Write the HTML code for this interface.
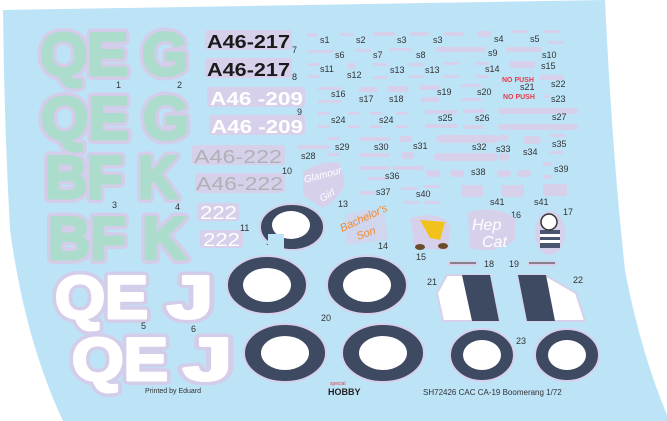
<!DOCTYPE html>
<html><head><meta charset="utf-8"><style>
html,body{margin:0;padding:0;background:#fff;}
svg{display:block;}
text{font-family:"Liberation Sans",sans-serif;}
</style></head><body>
<svg width="667" height="421" viewBox="0 0 667 421" xmlns="http://www.w3.org/2000/svg">
<defs>
<g id="big1" font-weight="bold" font-size="60">
<text x="40" y="75" textLength="88" lengthAdjust="spacingAndGlyphs">QE</text>
<text x="142" y="75" textLength="46" lengthAdjust="spacingAndGlyphs">G</text>
<text x="41" y="139" textLength="88" lengthAdjust="spacingAndGlyphs">QE</text>
<text x="143" y="139" textLength="46" lengthAdjust="spacingAndGlyphs">G</text>
<text x="45" y="198" textLength="78" lengthAdjust="spacingAndGlyphs">BF</text>
<text x="138" y="198" textLength="40" lengthAdjust="spacingAndGlyphs">K</text>
<text x="48" y="259" textLength="78" lengthAdjust="spacingAndGlyphs">BF</text>
<text x="142" y="259" textLength="45" lengthAdjust="spacingAndGlyphs">K</text>
</g>
<g id="big2" font-weight="bold" font-size="60">
<text x="55" y="318" textLength="93" lengthAdjust="spacingAndGlyphs">QE</text>
<text x="167" y="318" textLength="46" lengthAdjust="spacingAndGlyphs">J</text>
<text x="72" y="380" textLength="96" lengthAdjust="spacingAndGlyphs">QE</text>
<text x="183" y="380" textLength="49" lengthAdjust="spacingAndGlyphs">J</text>
</g>
</defs>
<path d="M3,10 L605,0 Q612,150 625,270 Q640,350 667,415 L667,421 L63,421 Q25,340 10,230 Q4,120 3,10 Z" fill="#bde3f7"/>

<!-- big letters -->
<use href="#big1" fill="#d3cdea" stroke="#d3cdea" stroke-width="10" stroke-linejoin="round"/>
<use href="#big1" fill="#acdccb" stroke="#acdccb" stroke-width="3" stroke-linejoin="round"/>
<use href="#big2" fill="#d3cdea" stroke="#d3cdea" stroke-width="10" stroke-linejoin="round"/>
<use href="#big2" fill="#fff" stroke="#fff" stroke-width="3" stroke-linejoin="round"/>

<!-- registrations -->
<g fill="#d7d0ea">
<rect x="205" y="30" width="87" height="20" rx="3"/><rect x="205" y="58" width="87" height="20" rx="3"/>
<rect x="207" y="87" width="98" height="20" rx="3"/><rect x="209" y="115" width="96" height="20" rx="3"/>
<rect x="192" y="145" width="93" height="20" rx="3"/><rect x="195" y="173" width="90" height="20" rx="3"/>
<rect x="197" y="203" width="42" height="18" rx="3"/><rect x="200" y="230" width="43" height="18" rx="3"/>
</g>
<g font-size="18" font-weight="bold">
<text x="207" y="48" textLength="83" lengthAdjust="spacingAndGlyphs" fill="#1a1a1a">A46-217</text>
<text x="207" y="76" textLength="83" lengthAdjust="spacingAndGlyphs" fill="#1a1a1a">A46-217</text>
<text x="210" y="105" textLength="93" lengthAdjust="spacingAndGlyphs" fill="#fff">A46 -209</text>
<text x="211" y="133" textLength="92" lengthAdjust="spacingAndGlyphs" fill="#fff">A46 -209</text>
<text x="194" y="163" textLength="88" lengthAdjust="spacingAndGlyphs" fill="#aeb2b4" font-weight="normal">A46-222</text>
<text x="196" y="190" textLength="87" lengthAdjust="spacingAndGlyphs" fill="#aeb2b4" font-weight="normal">A46-222</text>
<text x="200" y="219" textLength="37" lengthAdjust="spacingAndGlyphs" fill="#fff" font-weight="normal">222</text>
<text x="203" y="246" textLength="37" lengthAdjust="spacingAndGlyphs" fill="#fff" font-weight="normal">222</text>
</g>

<!-- numbers -->
<g font-size="9" fill="#333">
<text x="116" y="88">1</text><text x="177" y="88">2</text><text x="112" y="208">3</text><text x="175" y="210">4</text>
<text x="141" y="329">5</text><text x="191" y="332">6</text><text x="292" y="53">7</text><text x="292" y="80">8</text>
<text x="297" y="115">9</text><text x="282" y="174">10</text><text x="240" y="231">11</text><text x="266" y="245">12</text>
<text x="338" y="207">13</text><text x="378" y="249">14</text><text x="416" y="260">15</text><text x="511" y="218">16</text>
<text x="563" y="215">17</text><text x="484" y="267">18</text><text x="509" y="267">19</text><text x="321" y="321">20</text>
<text x="427" y="285">21</text><text x="573" y="283">22</text><text x="516" y="344">23</text>
</g>

<!-- stencils -->
<g fill="#d7d0ea">
<rect x="307" y="33" width="10" height="4"/><rect x="340" y="33" width="14" height="3"/><rect x="373" y="32" width="22" height="4" rx="2"/><rect x="409" y="32" width="20" height="4" rx="2"/><rect x="444" y="32" width="20" height="4" rx="2"/><rect x="478" y="31" width="14" height="6"/><rect x="512" y="30" width="16" height="3"/><rect x="544" y="30" width="16" height="3"/><rect x="548" y="41" width="16" height="3"/>
<rect x="308" y="50" width="25" height="3"/><rect x="355" y="49" width="16" height="3"/><rect x="390" y="48" width="22" height="3"/><rect x="436" y="47" width="50" height="5" rx="2"/><rect x="506" y="47" width="36" height="5" rx="2"/>
<rect x="308" y="63" width="12" height="3"/><rect x="308" y="75" width="12" height="3"/><rect x="348" y="63" width="8" height="6"/><rect x="373" y="63" width="14" height="3"/><rect x="373" y="76" width="14" height="3"/><rect x="409" y="63" width="14" height="3"/><rect x="409" y="75" width="14" height="3"/><rect x="443" y="62" width="16" height="3"/><rect x="443" y="75" width="16" height="3"/><rect x="475" y="62" width="14" height="3"/><rect x="475" y="75" width="14" height="3"/><rect x="510" y="61" width="25" height="7" rx="2"/><rect x="540" y="75" width="24" height="5" rx="2"/>
<rect x="317" y="87" width="24" height="3"/><rect x="318" y="100" width="24" height="3"/><rect x="359" y="87" width="18" height="5"/><rect x="388" y="86" width="20" height="6"/><rect x="420" y="85" width="20" height="5"/><rect x="421" y="97" width="18" height="5"/><rect x="461" y="84" width="20" height="3"/><rect x="461" y="98" width="20" height="3"/><rect x="543" y="95" width="6" height="3"/>
<rect x="318" y="112" width="12" height="3"/><rect x="318" y="125" width="12" height="3"/><rect x="348" y="112" width="12" height="3"/><rect x="348" y="125" width="12" height="3"/><rect x="370" y="112" width="12" height="3"/><rect x="370" y="125" width="12" height="3"/><rect x="396" y="112" width="12" height="3"/><rect x="396" y="125" width="12" height="3"/><rect x="425" y="110" width="32" height="4"/><rect x="425" y="124" width="32" height="4"/><rect x="463" y="109" width="22" height="4"/><rect x="463" y="125" width="20" height="4"/><rect x="498" y="108" width="80" height="6" rx="3"/><rect x="498" y="124" width="80" height="6" rx="3"/>
<rect x="297" y="145" width="32" height="4"/><rect x="328" y="137" width="12" height="3"/><rect x="328" y="153" width="12" height="3"/><rect x="360" y="137" width="30" height="4"/><rect x="360" y="153" width="30" height="4"/><rect x="400" y="136" width="12" height="6"/><rect x="402" y="152" width="12" height="7"/><rect x="436" y="135" width="62" height="8" rx="4"/><rect x="434" y="153" width="64" height="8" rx="4"/><rect x="497" y="135" width="12" height="6" rx="3"/><rect x="499" y="153" width="10" height="8" rx="3"/><rect x="523" y="136" width="18" height="8" rx="4"/><rect x="549" y="134" width="16" height="3"/><rect x="549" y="151" width="14" height="3"/>
<rect x="360" y="166" width="30" height="4"/><rect x="367" y="177" width="20" height="3"/><rect x="393" y="166" width="30" height="4"/><rect x="360" y="191" width="16" height="4"/><rect x="401" y="187" width="16" height="3"/><rect x="403" y="201" width="16" height="3"/><rect x="424" y="185" width="16" height="3"/><rect x="424" y="201" width="16" height="3"/><rect x="426" y="170" width="14" height="7" rx="3"/><rect x="450" y="170" width="14" height="7" rx="3"/><rect x="497" y="170" width="14" height="7" rx="3"/><rect x="517" y="170" width="14" height="7" rx="3"/><rect x="543" y="162" width="9" height="4"/><rect x="543" y="175" width="9" height="4"/>
<rect x="461" y="185" width="22" height="12" rx="2"/><rect x="502" y="185" width="22" height="12" rx="2"/><rect x="543" y="184" width="24" height="12" rx="2"/>
</g>
<g fill="#e53d4a" font-size="7" font-weight="bold"><text x="502" y="82">NO PUSH</text><text x="503" y="99">NO PUSH</text></g>
<g font-size="9" fill="#333">
<text x="320" y="43">s1</text><text x="356" y="43">s2</text><text x="397" y="43">s3</text><text x="433" y="43">s3</text><text x="494" y="42">s4</text><text x="530" y="42">s5</text>
<text x="335" y="58">s6</text><text x="373" y="58">s7</text><text x="416" y="58">s8</text><text x="488" y="56">s9</text><text x="542" y="58">s10</text>
<text x="320" y="72">s11</text><text x="347" y="78">s12</text><text x="390" y="73">s13</text><text x="425" y="73">s13</text><text x="485" y="72">s14</text><text x="541" y="69">s15</text>
<text x="331" y="97">s16</text><text x="359" y="102">s17</text><text x="389" y="102">s18</text><text x="437" y="95">s19</text><text x="477" y="95">s20</text><text x="520" y="90">s21</text><text x="551" y="87">s22</text><text x="551" y="102">s23</text>
<text x="331" y="123">s24</text><text x="379" y="123">s24</text><text x="438" y="121">s25</text><text x="475" y="121">s26</text><text x="552" y="120">s27</text>
<text x="301" y="159">s28</text><text x="335" y="150">s29</text><text x="374" y="150">s30</text><text x="413" y="149">s31</text><text x="472" y="150">s32</text><text x="496" y="152">s33</text><text x="523" y="155">s34</text><text x="552" y="147">s35</text>
<text x="385" y="179">s36</text><text x="376" y="195">s37</text><text x="471" y="175">s38</text><text x="554" y="172">s39</text><text x="416" y="197">s40</text><text x="490" y="205">s41</text><text x="534" y="205">s41</text>
</g>

<!-- artwork -->
<path d="M303,172 Q320,160 340,163 L345,185 Q335,203 322,208 L303,195 Z" fill="#d7d0ea"/>
<text x="305" y="183" font-size="10" font-style="italic" fill="#fff" transform="rotate(-15 305 183)">Glamour</text>
<text x="322" y="202" font-size="10" font-style="italic" fill="#fff" transform="rotate(-30 322 202)">Girl</text>
<path d="M345,215 Q370,205 385,215 L388,240 L345,245 Z" fill="#d7d0ea" opacity="0.7"/>
<text x="342" y="232" font-size="11" font-style="italic" fill="#f28a2e" transform="rotate(-25 342 232)">Bachelor's</text>
<text x="358" y="240" font-size="11" font-style="italic" fill="#f28a2e" transform="rotate(-20 358 240)">Son</text>
<path d="M410,218 Q440,210 450,225 L448,250 L415,248 Z" fill="#d7d0ea"/>
<path d="M420,220 L445,222 L440,240 L430,238 Z" fill="#f2c21c"/>
<ellipse cx="420" cy="247" rx="5" ry="3" fill="#6b4b2b"/><ellipse cx="443" cy="246" rx="5" ry="3" fill="#6b4b2b"/>
<path d="M468,212 Q495,205 515,218 L515,240 Q495,255 470,248 Z" fill="#d7d0ea"/>
<text x="472" y="230" font-size="16" font-style="italic" fill="#fff">Hep</text>
<text x="482" y="247" font-size="16" font-style="italic" fill="#fff">Cat</text>
<ellipse cx="550" cy="233" rx="15" ry="22" fill="#d7d0ea"/>
<rect x="540" y="230" width="20" height="18" fill="#4a5570"/><rect x="540" y="234" width="20" height="3" fill="#fff"/><rect x="540" y="240" width="20" height="3" fill="#fff"/>
<circle cx="549" cy="222" r="8" fill="#fff" stroke="#333" stroke-width="1.5"/>
<rect x="448" y="261" width="30" height="5" rx="2" fill="#d7d0ea"/><line x1="450" y1="263" x2="476" y2="263" stroke="#333"/>
<rect x="527" y="261" width="30" height="5" rx="2" fill="#d7d0ea"/><line x1="529" y1="263" x2="555" y2="263" stroke="#333"/>

<!-- roundels -->
<g stroke="#d7d0ea" stroke-width="2">
<ellipse cx="292" cy="227" rx="32" ry="23" fill="#3e4962"/>
<ellipse cx="267" cy="285" rx="40" ry="29" fill="#3e4962"/><ellipse cx="367" cy="285" rx="40" ry="29" fill="#3e4962"/>
<ellipse cx="285" cy="353" rx="41" ry="29" fill="#3e4962"/><ellipse cx="383" cy="353" rx="41" ry="29" fill="#3e4962"/>
<ellipse cx="482" cy="355" rx="32" ry="26" fill="#3e4962"/><ellipse cx="567" cy="355" rx="32" ry="26" fill="#3e4962"/>
</g>
<g fill="#fff">
<ellipse cx="291" cy="225" rx="19" ry="14"/>
<ellipse cx="267" cy="285" rx="24" ry="17"/><ellipse cx="367" cy="285" rx="24" ry="17"/>
<ellipse cx="285" cy="353" rx="24" ry="17"/><ellipse cx="383" cy="353" rx="24" ry="17"/>
<ellipse cx="482" cy="355" rx="19" ry="15"/><ellipse cx="567" cy="355" rx="19" ry="15"/>
</g>
<rect x="268" y="234" width="16" height="18" fill="#bde3f7"/>

<!-- fin flashes -->
<g stroke="#d7d0ea" stroke-width="2">
<polygon points="447,275 490,275 499,321 443,321 437,293" fill="#fff"/>
<polygon points="518,275 545,275 576,293 585,321 527,321" fill="#fff"/>
</g>
<polygon points="462,275 490,275 499,321 472,321" fill="#3e4962"/>
<polygon points="518,275 546,275 555,321 527,321" fill="#3e4962"/>

<!-- footer -->
<text x="145" y="393" font-size="7" fill="#333">Printed by Eduard</text>
<text x="330" y="385" font-size="5" fill="#e53d4a">special</text>
<text x="328" y="395" font-size="9" font-weight="bold" fill="#222">HOBBY</text>
<text x="423" y="395" font-size="8" fill="#333">SH72426  CAC CA-19 Boomerang  1/72</text>
</svg>
</body></html>
